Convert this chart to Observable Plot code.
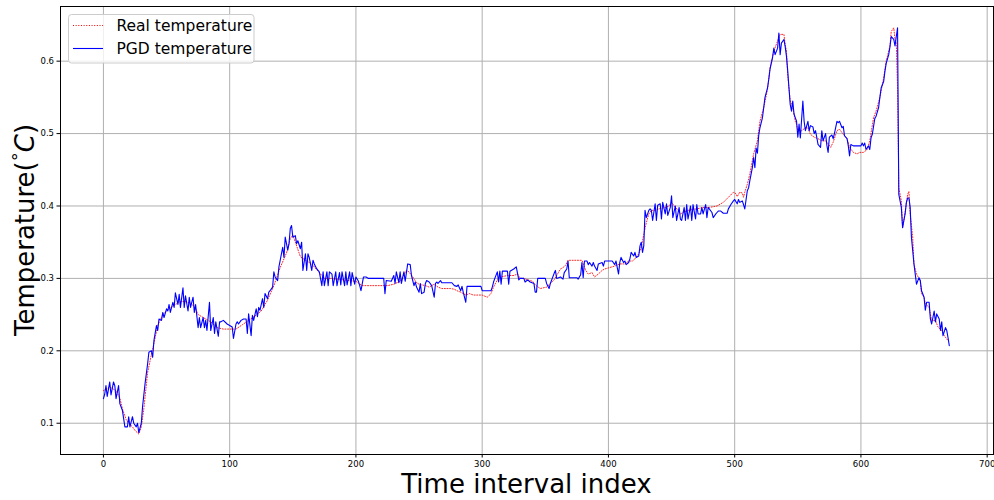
<!DOCTYPE html>
<html>
<head>
<meta charset="utf-8">
<script src="https://cdn.jsdelivr.net/npm/d3@7"></script>
<script src="https://cdn.jsdelivr.net/npm/@observablehq/plot@0.6"></script>
<style>
  body { margin: 0; background: #fff; }
  #chart { width: 994px; height: 500px; }
</style>
</head>
<body>
<div id="chart"></div>
<script>
// Tick values for both axes
const xTicks = [0, 100, 200, 300, 400, 500, 600, 700];
const yTicks = [0.1, 0.2, 0.3, 0.4, 0.5, 0.6];
const seriesNames = ["Real temperature", "PGD temperature"];
const xLabel = "Time interval index";

// Measured temperature: [time interval index, temperature]
const realTemperature = [
  [0,.145],[5,.150],[10,.145],[13,.135],[15,.120],[18,.105],[20,.100],[23,.095],[25,.090],[28,.085],
  [30,.095],[32,.120],[35,.170],[38,.195],[40,.210],[43,.235],[47,.250],[50,.255],[55,.262],[58,.265],
  [60,.268],[65,.268],[70,.265],[73,.258],[75,.250],[80,.245],[85,.240],[90,.232],[95,.230],[100,.230],
  [105,.230],[110,.236],[115,.242],[120,.248],[125,.255],[130,.270],[135,.290],[140,.315],[145,.335],[148,.355],
  [150,.360],[153,.345],[156,.330],[160,.325],[165,.320],[170,.310],[175,.300],[180,.300],[190,.298],[200,.296],
  [205,.290],[225,.290],[230,.292],[235,.296],[240,.311],[242,.309],[245,.302],[248,.294],[250,.292],[255,.290],
  [258,.288],[262,.292],[265,.288],[268,.286],[275,.286],[278,.285],[280,.283],[283,.281],[287,.277],[290,.279],
  [293,.277],[300,.277],[304,.274],[307,.279],[309,.288],[312,.298],[315,.302],[320,.304],[325,.304],[328,.306],
  [330,.300],[333,.300],[336,.298],[340,.296],[342,.291],[346,.286],[351,.288],[354,.293],[357,.298],[359,.304],
  [362,.313],[364,.315],[366,.318],[368,.325],[375,.325],[379,.325],[382,.311],[384,.306],[387,.308],[389,.302],
  [392,.306],[395,.311],[397,.313],[401,.315],[405,.317],[409,.320],[413,.320],[416,.324],[419,.324],[421,.327],
  [424,.334],[426,.343],[428,.361],[430,.377],[432,.389],[434,.394],[437,.394],[440,.396],[445,.398],[448,.400],
  [450,.405],[453,.398],[455,.395],[457,.389],[460,.392],[465,.395],[470,.396],[475,.398],[480,.398],[486,.400],
  [489,.403],[491,.405],[495,.412],[499,.419],[501,.417],[502,.413],[504,.419],[506,.418],[507,.412],[508,.419],
  [510,.430],[512,.444],[515,.472],[518,.490],[520,.517],[523,.536],[526,.561],[528,.591],[531,.614],[534,.628],
  [536,.637],[539,.637],[540,.623],[541,.614],[542,.581],[544,.545],[545,.541],[546,.536],[548,.517],[549,.513],
  [550,.504],[553,.504],[556,.508],[558,.508],[560,.499],[563,.495],[566,.493],[569,.490],[572,.490],[574,.486],
  [576,.481],[578,.488],[581,.504],[583,.506],[586,.499],[589,.493],[591,.481],[594,.474],[597,.472],[599,.474],
  [602,.474],[605,.478],[607,.490],[610,.522],[612,.531],[615,.550],[618,.577],[620,.600],[623,.621],[624,.641],
  [626,.646],[627,.630],[628,.625],[629,.563],[630,.425],[632,.407],[633,.370],[634,.380],[637,.416],[638,.420],
  [639,.389],[641,.357],[642,.320],[644,.306],[647,.297],[648,.279],[650,.274],[651,.265],[654,.260],[656,.242],
  [659,.242],[661,.233],[664,.228],[666,.221],[669,.214]
];

// PGD-estimated temperature: [time interval index, temperature]
const pgdTemperature = [
  [0,.134],[1,.140],[2,.152],[3,.137],[5,.157],[6,.139],[8,.157],[9,.152],[10,.134],[12,.152],[13,.127],[15,.118],
  [17,.095],[19,.095],[20,.109],[21,.095],[23,.109],[24,.100],[26,.095],[27,.100],[28,.087],[30,.100],[31,.123],
  [33,.155],[35,.182],[36,.198],[38,.200],[39,.191],[40,.214],[42,.235],[43,.228],[44,.244],[46,.242],[47,.253],
  [48,.246],[50,.258],[51,.255],[52,.264],[53,.253],[55,.267],[56,.260],[57,.280],[59,.264],[60,.278],[61,.260],
  [63,.287],[64,.260],[65,.276],[67,.255],[68,.274],[69,.260],[71,.274],[72,.253],[73,.264],[75,.232],[76,.246],
  [77,.232],[79,.246],[80,.232],[81,.242],[82,.228],[84,.267],[85,.228],[87,.246],[88,.224],[89,.240],[91,.220],
  [92,.240],[93,.240],[95,.242],[98,.237],[100,.235],[102,.233],[103,.217],[105,.237],[106,.240],[107,.237],
  [109,.242],[111,.244],[113,.244],[114,.224],[115,.251],[117,.221],[118,.249],[119,.242],[121,.258],[122,.247],
  [123,.260],[124,.256],[126,.272],[127,.260],[128,.279],[130,.272],[131,.281],[132,.283],[134,.288],[135,.309],
  [136,.302],[138,.297],[139,.316],[140,.325],[142,.343],[143,.329],[144,.357],[146,.339],[147,.348],[148,.369],
  [149,.373],[150,.357],[152,.359],[153,.348],[154,.352],[156,.341],[157,.350],[158,.311],[160,.334],[161,.311],
  [162,.334],[163,.329],[165,.311],[166,.325],[167,.320],[169,.313],[171,.309],[173,.290],[174,.309],[175,.290],
  [177,.309],[178,.290],[179,.309],[181,.306],[182,.290],[184,.309],[185,.290],[187,.308],[188,.291],[189,.309],
  [191,.290],[192,.309],[193,.291],[195,.309],[196,.290],[197,.308],[199,.292],[200,.302],[202,.296],[203,.290],
  [204,.283],[206,.302],[208,.302],[210,.300],[222,.300],[223,.279],[224,.297],[228,.296],[230,.304],[231,.293],
  [232,.309],[234,.294],[235,.309],[236,.293],[238,.309],[239,.296],[241,.320],[243,.319],[244,.304],[246,.290],
  [247,.295],[248,.288],[250,.281],[251,.293],[252,.279],[254,.281],[255,.293],[256,.297],[258,.295],[260,.290],
  [262,.274],[263,.293],[264,.295],[265,.293],[267,.297],[268,.294],[276,.294],[278,.290],[280,.289],[281,.291],
  [283,.283],[284,.289],[285,.281],[287,.267],[288,.289],[299,.289],[300,.283],[307,.283],[308,.288],[309,.295],
  [310,.300],[312,.309],[313,.295],[314,.310],[315,.292],[316,.310],[320,.310],[321,.292],[322,.310],[325,.313],
  [327,.316],[329,.298],[330,.300],[333,.300],[334,.295],[336,.298],[338,.295],[341,.293],[342,.281],[343,.281],
  [344,.300],[350,.300],[351,.293],[353,.286],[354,.293],[357,.307],[358,.311],[359,.300],[362,.302],[364,.299],
  [365,.308],[367,.313],[368,.324],[369,.301],[375,.301],[376,.299],[378,.305],[379,.322],[380,.301],[381,.324],
  [383,.324],[384,.319],[385,.322],[387,.317],[388,.322],[389,.317],[391,.311],[392,.320],[395,.322],[396,.317],
  [397,.324],[400,.324],[403,.324],[405,.319],[406,.324],[408,.306],[409,.322],[410,.329],[412,.322],[413,.324],
  [414,.319],[416,.322],[417,.327],[418,.336],[420,.331],[421,.336],[422,.329],[424,.331],[425,.345],[426,.350],
  [427,.336],[428,.345],[429,.394],[430,.384],[432,.394],[433,.396],[434,.394],[435,.380],[437,.403],[438,.380],
  [439,.401],[441,.403],[442,.382],[443,.405],[445,.389],[446,.403],[447,.387],[449,.398],[450,.414],[451,.384],
  [453,.400],[454,.380],[456,.398],[457,.382],[458,.380],[460,.398],[461,.380],[462,.402],[463,.382],[465,.400],
  [466,.380],[467,.402],[469,.382],[470,.402],[471,.389],[473,.389],[474,.398],[475,.389],[477,.402],[478,.384],
  [479,.398],[482,.391],[483,.384],[485,.389],[486,.391],[487,.393],[489,.393],[491,.390],[494,.390],[495,.396],
  [497,.402],[499,.407],[500,.409],[502,.403],[503,.409],[504,.405],[506,.407],[507,.402],[508,.396],[510,.421],
  [511,.425],[512,.435],[514,.453],[515,.467],[516,.453],[517,.480],[518,.473],[519,.497],[520,.508],[522,.522],
  [523,.536],[524,.550],[526,.563],[527,.575],[528,.589],[530,.605],[531,.618],[532,.609],[534,.618],[535,.639],
  [536,.609],[537,.625],[539,.630],[540,.620],[541,.607],[542,.587],[543,.563],[544,.540],[545,.531],[546,.545],
  [547,.527],[548,.522],[549,.517],[550,.495],[551,.513],[552,.494],[554,.545],[555,.517],[556,.504],[558,.517],
  [559,.504],[560,.511],[562,.509],[563,.500],[564,.504],[565,.495],[566,.485],[568,.481],[569,.504],[570,.490],
  [572,.500],[573,.484],[574,.474],[575,.495],[577,.498],[578,.493],[579,.500],[581,.517],[582,.515],[583,.517],
  [585,.508],[586,.510],[587,.497],[589,.493],[590,.483],[591,.469],[592,.485],[594,.483],[600,.483],[601,.487],
  [602,.483],[603,.487],[604,.478],[606,.483],[607,.478],[608,.494],[609,.499],[611,.521],[612,.524],[614,.536],
  [615,.550],[616,.563],[618,.572],[619,.586],[620,.597],[622,.609],[623,.620],[624,.634],[626,.630],[627,.621],
  [628,.634],[629,.646],[630,.416],[631,.407],[632,.398],[633,.370],[634,.380],[635,.389],[636,.405],[637,.411],
  [638,.411],[639,.398],[640,.357],[642,.320],[643,.306],[644,.292],[646,.301],[647,.297],[648,.283],[650,.274],
  [651,.256],[652,.267],[654,.267],[655,.244],[656,.237],[658,.255],[659,.240],[660,.251],[662,.244],[663,.228],
  [664,.240],[665,.221],[667,.232],[668,.228],[669,.218],[670,.207]
];

const toRows = pairs => pairs.map(([index, temp]) => ({index, temp}));
const realRows = toRows(realTemperature);
const pgdRows = toRows(pgdTemperature);

const REAL_COLOR = "#ff0000";
const PGD_COLOR = "#0000ff";
const REAL_DASH = "1,1.65";

const chart = Plot.plot({
  width: 994,
  height: 500,
  marginLeft: 60,
  marginRight: 1,
  marginTop: 6,
  marginBottom: 46,
  style: {fontFamily: "'DejaVu Sans', sans-serif", fontSize: "8.5px", background: "#fff", color: "#000"},
  x: {domain: [-34, 705]},
  y: {domain: [0.0568, 0.6755]},
  marks: [
    Plot.gridX(xTicks, {stroke: "#b0b0b0", strokeOpacity: 1, strokeWidth: 1}),
    Plot.gridY(yTicks, {stroke: "#b0b0b0", strokeOpacity: 1, strokeWidth: 1}),
    Plot.line(realRows, {x: "index", y: "temp", stroke: REAL_COLOR, strokeWidth: 1, strokeOpacity: 0.85, strokeDasharray: REAL_DASH}),
    Plot.line(pgdRows, {x: "index", y: "temp", stroke: PGD_COLOR, strokeWidth: 1.1}),
    Plot.frame({stroke: "#000", strokeWidth: 1}),
    Plot.axisX(xTicks, {tickSize: 3.5, tickPadding: 3, label: null, tickFormat: d => String(d)}),
    Plot.axisY(yTicks, {tickSize: 3.5, tickPadding: 3, label: null, tickFormat: d => d.toFixed(1)})
  ]
});

document.getElementById("chart").appendChild(chart);

const svg = d3.select(chart);

// x axis title
svg.append("text")
  .attr("x", 526.5)
  .attr("y", 493)
  .attr("text-anchor", "middle")
  .attr("font-size", "26px")
  .attr("fill", "#000")
  .text(xLabel);

// y axis title with degree superscript and italic C
const yTitle = svg.append("text")
  .attr("transform", "translate(34,230) rotate(-90)")
  .attr("text-anchor", "middle")
  .attr("font-size", "26px")
  .attr("fill", "#000");
yTitle.append("tspan").text("Temperature(");
yTitle.append("tspan").attr("font-size", "18px").attr("dy", "-9").text("°");
yTitle.append("tspan").attr("font-style", "italic").attr("dy", "9").text("C");
yTitle.append("tspan").text(")");

// legend
const legend = svg.append("g").attr("text-anchor", "start");
legend.append("rect")
  .attr("x", 68.5).attr("y", 14.5)
  .attr("width", 185.5).attr("height", 48.5)
  .attr("rx", 3)
  .attr("fill", "#fff").attr("fill-opacity", 0.8)
  .attr("stroke", "#cccccc");
const entries = [
  {name: seriesNames[0], color: REAL_COLOR, dash: REAL_DASH, y: 25.5},
  {name: seriesNames[1], color: PGD_COLOR, dash: null, y: 48.5}
];
entries.forEach(e => {
  legend.append("line")
    .attr("x1", 73).attr("x2", 103)
    .attr("y1", e.y).attr("y2", e.y)
    .attr("stroke", e.color)
    .attr("stroke-width", 1.1)
    .attr("stroke-dasharray", e.dash);
  legend.append("text")
    .attr("x", 116.5).attr("y", e.y)
    .attr("dy", "0.36em")
    .attr("text-anchor", "start")
    .attr("font-size", "15.5px")
    .attr("fill", "#000")
    .text(e.name);
});
</script>
</body>
</html>
